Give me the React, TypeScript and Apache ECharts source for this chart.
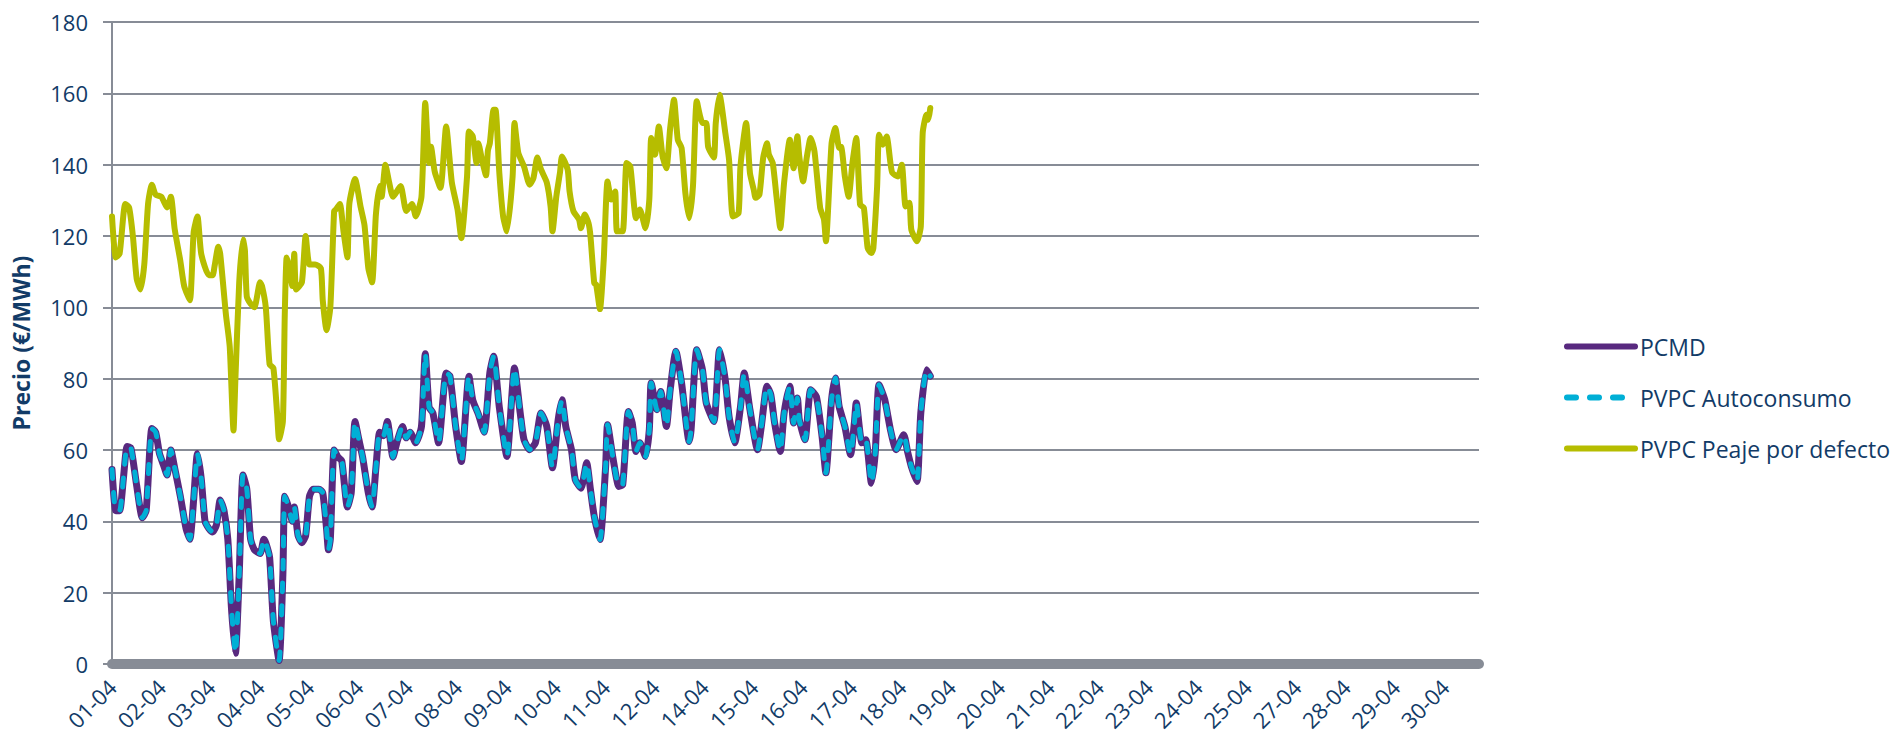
import React, { useEffect, useRef } from "react";
import * as echarts from "echarts";

// Axis tick labels (one every 26 hourly categories, as in the source chart)
const TICK_LABELS = [
  "01-04", "02-04", "03-04", "04-04", "05-04", "06-04", "07-04", "08-04", "09-04", "10-04",
  "11-04", "12-04", "14-04", "15-04", "16-04", "17-04", "18-04", "19-04", "20-04", "21-04",
  "22-04", "23-04", "24-04", "25-04", "27-04", "28-04", "29-04", "30-04",
];
const HOURS_PER_TICK = 26;
const TOTAL_HOURS = 720;

const SERIES_NAMES = ["PCMD", "PVPC Autoconsumo", "PVPC Peaje por defecto"];

// [hour index from 01-04 00:00, €/MWh]
const PCMD: [number, number][] = [
  [0, 54.5], [2, 43], [4, 43], [6, 52], [8, 61], [10, 60.5], [13, 50], [16, 41], [18, 43], [21, 66],
  [23, 65], [25, 59], [27, 56], [29, 53], [31, 60], [33, 55], [36, 47], [39, 38], [41, 35], [43, 46],
  [45, 59], [47, 52], [49, 40], [51, 38], [53, 37], [55, 39], [57, 46], [59, 43], [61, 35], [63, 15],
  [65, 3], [67, 25], [69, 53], [71, 49], [73, 35], [75, 32], [78, 31], [80, 35], [81, 34], [83, 30],
  [85, 12], [88, 1], [90, 25], [91, 47], [93, 44], [95, 40], [96, 44], [98, 36], [100, 34], [102, 36],
  [104, 47], [106, 49], [109, 49], [111, 48], [113, 38], [114, 32], [115, 35], [117, 60], [119, 58], [121, 57],
  [124, 44], [126, 48], [128, 68], [130, 63], [132, 58], [135, 48], [137, 44], [139, 55], [141, 65], [143, 64],
  [145, 68], [148, 58], [150, 62], [153, 66.6], [155, 63.4], [157, 65], [160, 62], [163, 66.6], [165, 87], [167, 72],
  [169, 70.4], [172, 62], [176, 81.6], [178, 80.7], [181, 66.6], [184, 56.8], [188, 80.7], [190, 74], [193, 70], [196, 65],
  [199, 81.6], [201, 86.3], [204, 72], [208, 58.2], [212, 83], [215, 70.4], [217, 62.9], [220, 60.1], [223, 62], [226, 70.4],
  [229, 66.6], [232, 55], [235, 68.5], [237, 74.1], [239, 66.6], [242, 60.1], [244, 51.7], [247, 49.3], [250, 56.4], [252, 48.9],
  [254, 41.4], [257, 34.9], [260, 55.4], [261, 67.1], [264, 57.3], [267, 49.8], [269, 50.3], [272, 70.8], [274, 67.6], [276, 59.6],
  [278, 62], [281, 58.2], [283, 65.7], [284, 78.8], [287, 71.3], [289, 76.4], [292, 66.6], [294, 76.9], [297, 87.7], [300, 78.8],
  [304, 62.4], [305, 65.7], [308, 88.1], [311, 82.5], [313, 73.2], [317, 68], [320, 88.1], [323, 79.7], [325, 69.4], [328, 62],
  [331, 72], [333, 81.6], [336, 71.3], [340, 60.1], [342, 66.6], [345, 77.9], [347, 75.5], [349, 67.6], [352, 59.6], [354, 70.4],
  [357, 77.9], [359, 67.6], [361, 74.6], [362, 68.5], [365, 62.9], [368, 76.9], [371, 75], [374, 63.8], [376, 53.6], [379, 74.1],
  [381, 80.2], [383, 72.2], [386, 66.6], [389, 58.7], [391, 67.6], [392, 73.2], [395, 62], [397, 62.9], [400, 50.7], [402, 59.2],
  [404, 78.3], [407, 74.1], [410, 65.7], [413, 60.1], [417, 64.3], [419, 59.6], [421, 55.4], [424, 51.2], [426, 70.4], [429, 82.5],
  [431, 80.7],
];

const PVPC_AUTOCONSUMO: [number, number][] = [
  [0, 54.5], [2, 43], [4, 43], [6, 52], [8, 61], [10, 60.5], [13, 50], [16, 41], [18, 43], [21, 66],
  [23, 65], [25, 59], [27, 56], [29, 53], [31, 60], [33, 55], [36, 47], [39, 38], [41, 35], [43, 46],
  [45, 59], [47, 52], [49, 40], [51, 38], [53, 37], [55, 39], [57, 46], [59, 43], [61, 35], [63, 15],
  [65, 3], [67, 25], [69, 53], [71, 49], [73, 35], [75, 32], [78, 31], [80, 35], [81, 34], [83, 30],
  [85, 12], [88, 1], [90, 25], [91, 47], [93, 44], [95, 40], [96, 44], [98, 36], [100, 34], [102, 36],
  [104, 47], [106, 49], [109, 49], [111, 48], [113, 38], [114, 32], [115, 35], [117, 60], [119, 58], [121, 57],
  [124, 44], [126, 48], [128, 68], [130, 63], [132, 58], [135, 48], [137, 44], [139, 55], [141, 65], [143, 64],
  [145, 68], [148, 58], [150, 62], [153, 66.6], [155, 63.4], [157, 65], [160, 62], [163, 66.6], [165, 87], [167, 72],
  [169, 70.4], [172, 62], [176, 81.6], [178, 80.7], [181, 66.6], [184, 56.8], [188, 80.7], [190, 74], [193, 70], [196, 65],
  [199, 81.6], [201, 86.3], [204, 72], [208, 58.2], [212, 83], [215, 70.4], [217, 62.9], [220, 60.1], [223, 62], [226, 70.4],
  [229, 66.6], [232, 55], [235, 68.5], [237, 74.1], [239, 66.6], [242, 60.1], [244, 51.7], [247, 49.3], [250, 56.4], [252, 48.9],
  [254, 41.4], [257, 34.9], [260, 55.4], [261, 67.1], [264, 57.3], [267, 49.8], [269, 50.3], [272, 70.8], [274, 67.6], [276, 59.6],
  [278, 62], [281, 58.2], [283, 65.7], [284, 78.8], [287, 71.3], [289, 76.4], [292, 66.6], [294, 76.9], [297, 87.7], [300, 78.8],
  [304, 62.4], [305, 65.7], [308, 88.1], [311, 82.5], [313, 73.2], [317, 68], [320, 88.1], [323, 79.7], [325, 69.4], [328, 62],
  [331, 72], [333, 81.6], [336, 71.3], [340, 60.1], [342, 66.6], [345, 77.9], [347, 75.5], [349, 67.6], [352, 59.6], [354, 70.4],
  [357, 77.9], [359, 67.6], [361, 74.6], [362, 68.5], [365, 62.9], [368, 76.9], [371, 75], [374, 63.8], [376, 53.6], [379, 74.1],
  [381, 80.2], [383, 72.2], [386, 66.6], [389, 58.7], [391, 67.6], [392, 73.2], [395, 62], [397, 62.9], [400, 50.7], [402, 59.2],
  [404, 78.3], [407, 74.1], [410, 65.7], [413, 60.1], [417, 64.3], [419, 59.6], [421, 55.4], [424, 51.2], [426, 70.4], [429, 82.5],
  [431, 80.7],
];

const PVPC_PEAJE: [number, number][] = [
  [0, 125.5], [2, 114], [4, 115], [7, 129], [9, 128], [11, 120], [13, 108], [15, 105], [17, 112], [19, 129],
  [21, 134.4], [23, 131.6], [26, 131], [29, 128], [31, 131], [33, 122], [36, 113], [38, 106], [41, 102], [43, 121],
  [45, 125.5], [47, 115], [51, 109], [53, 109], [54, 111.5], [56, 117], [57, 115], [60, 98], [62, 89], [64, 65.5],
  [65, 80], [67, 107], [69, 119], [70, 116], [71, 103], [73, 101], [75, 100], [78, 107], [79, 106], [81, 100],
  [83, 84], [85, 83], [87, 70], [88, 63], [90, 68], [91, 98], [92, 114], [93, 112], [95, 106], [96, 115],
  [97, 105], [100, 107], [102, 120], [104, 112], [107, 112], [110, 111], [111, 102], [113, 93.6], [115, 100], [117, 127],
  [118, 127.5], [120, 129], [122, 121], [124, 114], [125, 129], [128, 136], [131, 128], [133, 123], [135, 111], [137, 107],
  [139, 126], [141, 134], [142, 131], [144, 140], [146, 135], [148, 131], [152, 134], [155, 127], [158, 129], [160, 125.5],
  [163, 131], [165, 157.3], [167, 140.5], [168, 145], [170, 138], [173, 133.5], [176, 150.7], [179, 135], [182, 127.4], [184, 119.4],
  [187, 136.7], [188, 149.3], [190, 148], [192, 140.5], [193, 146], [195, 141], [197, 137], [198, 144], [199, 146], [201, 155.4],
  [202, 155.4], [204, 137.7], [206, 125.5], [208, 121.3], [211, 136.7], [212, 151.7], [214, 143.3], [217, 139.5], [220, 134.4], [222, 136.3],
  [224, 142], [226, 138.6], [229, 135], [231, 128.3], [232, 121.3], [234, 131], [236, 138], [237, 142.3], [240, 138.6], [241, 132.5],
  [243, 127], [246, 124.6], [247, 122.2], [249, 126], [251, 123.6], [252, 120], [254, 106.8], [255, 106.4], [257, 99.5], [259, 113.4],
  [261, 135.3], [263, 130.2], [265, 132.5], [266, 121.3], [269, 121.3], [271, 140.5], [273, 139.5], [276, 125], [278, 127.4], [281, 122.2],
  [283, 130.2], [284, 147.5], [286, 142.8], [288, 150.7], [290, 142.3], [292, 139], [294, 150.3], [296, 158.2], [298, 147], [300, 144.7],
  [302, 132], [304, 125], [306, 134], [308, 157.8], [311, 151.7], [313, 151.7], [314, 145], [317, 142], [318, 151.7], [320, 159.6],
  [323, 149], [325, 141.4], [327, 125.5], [330, 126.4], [331, 139.5], [334, 151.7], [336, 137.7], [338, 133], [339, 130.7], [341, 131.6],
  [343, 142], [345, 146], [346, 142.8], [348, 140.5], [350, 131], [352, 122.2], [354, 135], [357, 147], [359, 139], [361, 148],
  [362, 142.3], [364, 135.3], [366, 142.3], [368, 147.5], [370, 143.7], [373, 127.9], [375, 124.6], [376, 118.5], [379, 146], [381, 150.3],
  [383, 144.7], [384, 145], [386, 136.7], [388, 131], [390, 140.5], [392, 147.5], [394, 128.8], [396, 127.9], [398, 116.6], [400, 115.2],
  [401, 116.6], [403, 134], [404, 148.4], [406, 145.6], [408, 147.9], [410, 140.5], [411, 137.7], [414, 136.7], [416, 140], [418, 128.3],
  [420, 129.3], [421, 121.8], [424, 118.5], [426, 122.7], [427, 148.9], [429, 154], [430, 152.6], [431, 155.9],
];

const NAVY = "#123b67";
const GRID_GRAY = "#878c96";
const FONT = "'Open Sans', 'DejaVu Sans', sans-serif";

export default function App() {
  const ref = useRef<HTMLDivElement>(null);

  useEffect(() => {
    if (!ref.current) return;
    const chart = echarts.init(ref.current, undefined, { renderer: "svg" });
    chart.setOption({
      animation: false,
      backgroundColor: "#ffffff",
      textStyle: { fontFamily: FONT },
      grid: { left: 112, right: 417, top: 22, bottom: 78, containLabel: false },
      legend: {
        orient: "vertical",
        left: 1564,
        top: 335,
        padding: 0,
        itemWidth: 68,
        itemHeight: 20,
        itemGap: 28,
        data: SERIES_NAMES,
        itemStyle: { opacity: 0 },
        lineStyle: { width: 6 },
        textStyle: { fontSize: 23, color: NAVY, fontFamily: FONT },
      },
      xAxis: {
        type: "value",
        min: 0,
        max: TOTAL_HOURS,
        interval: HOURS_PER_TICK,
        offset: 5,
        axisLine: { show: true, lineStyle: { color: GRID_GRAY, width: 10 } },
        axisTick: { show: false },
        splitLine: { show: false },
        axisLabel: {
          rotate: 45,
          margin: 14,
          fontSize: 22,
          color: NAVY,
          fontFamily: FONT,
          showMaxLabel: false,
          formatter: (v: number) => {
            if (v % HOURS_PER_TICK !== 0) return "";
            return TICK_LABELS[v / HOURS_PER_TICK] ?? "";
          },
        },
      },
      yAxis: {
        type: "value",
        min: 0,
        max: 180,
        interval: 20,
        name: "Precio (€/MWh)",
        nameLocation: "middle",
        nameGap: 80,
        nameRotate: 90,
        nameTextStyle: { fontSize: 23, fontWeight: "bold", color: NAVY, fontFamily: FONT },
        axisLine: { show: true, lineStyle: { color: GRID_GRAY, width: 2 } },
        axisTick: { show: true, length: 9, lineStyle: { color: GRID_GRAY, width: 2 } },
        splitLine: { show: true, lineStyle: { color: GRID_GRAY, width: 2 } },
        axisLabel: { fontSize: 22, color: NAVY, margin: 24, fontFamily: FONT },
      },
      series: [
        {
          name: SERIES_NAMES[0],
          type: "line",
          data: PCMD,
          symbol: "none",
          smooth: 0.2,
          lineStyle: { color: "#58297f", width: 7, cap: "round", join: "round" },
          itemStyle: { color: "#58297f" },
          z: 2,
        },
        {
          name: SERIES_NAMES[1],
          type: "line",
          data: PVPC_AUTOCONSUMO,
          symbol: "none",
          smooth: 0.2,
          lineStyle: { color: "#00afd6", width: 5, type: [9, 14], cap: "round", join: "round" },
          itemStyle: { color: "#00afd6" },
          z: 3,
        },
        {
          name: SERIES_NAMES[2],
          type: "line",
          data: PVPC_PEAJE,
          symbol: "none",
          smooth: 0.2,
          lineStyle: { color: "#b6bd00", width: 6, cap: "round", join: "round" },
          itemStyle: { color: "#b6bd00" },
          z: 4,
        },
      ],
    });
    return () => chart.dispose();
  }, []);

  return (
    <div
      ref={ref}
      style={{ position: "fixed", left: 0, top: 0, width: 1896, height: 742, background: "#fff" }}
    />
  );
}
